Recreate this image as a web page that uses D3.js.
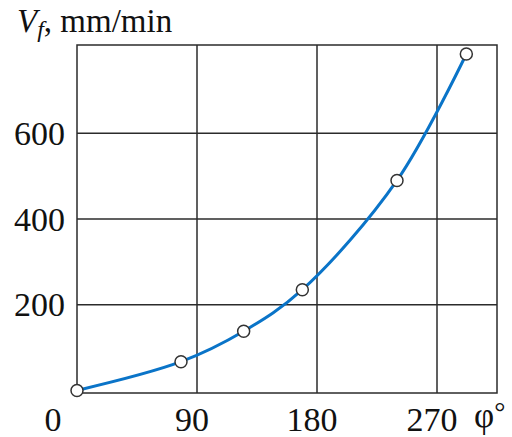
<!DOCTYPE html>
<html>
<head>
<meta charset="utf-8">
<script src="https://cdn.jsdelivr.net/npm/d3@7"></script>
<style>
  body { margin: 0; background: #fff; }
  text { font-family: "Liberation Serif", "DejaVu Serif", serif; fill: #111; }
</style>
</head>
<body>
<svg></svg>
<script>
// values
const phi = [0, 78, 125, 169, 240, 292]
const vf = [0, 67, 138, 235, 490, 785]
const xTicks = [0, 90, 180, 270]
const yTicks = [200, 400, 600]

const width = 512
const height = 437

const svg = d3.select('svg')
    .attr('width', width)
    .attr('height', height)

const x = d3.scaleLinear().domain([0, 315]).range([77, 497])
const y = d3.scaleLinear().domain([-6, 806]).range([393, 45])

const gridColor = '#2b2b2b'

// grid
svg.append('g')
    .selectAll('line')
    .data(xTicks.slice(1))
    .enter()
    .append('line')
    .attr('x1', d => x(d)).attr('x2', d => x(d))
    .attr('y1', y.range()[0]).attr('y2', y.range()[1])
    .attr('stroke', gridColor)
    .attr('stroke-width', 1.5)

svg.append('g')
    .selectAll('line')
    .data(yTicks)
    .enter()
    .append('line')
    .attr('x1', x.range()[0]).attr('x2', x.range()[1])
    .attr('y1', d => y(d)).attr('y2', d => y(d))
    .attr('stroke', gridColor)
    .attr('stroke-width', 1.5)

// frame
svg.append('rect')
    .attr('x', x.range()[0])
    .attr('y', y.range()[1])
    .attr('width', x.range()[1] - x.range()[0])
    .attr('height', y.range()[0] - y.range()[1])
    .attr('fill', 'none')
    .attr('stroke', gridColor)
    .attr('stroke-width', 1.5)

// tick labels
svg.append('g')
    .selectAll('text')
    .data(yTicks)
    .enter()
    .append('text')
    .attr('x', 65)
    .attr('y', d => y(d))
    .attr('dy', '0.34em')
    .attr('text-anchor', 'end')
    .attr('font-size', 34)
    .text(d => d)

svg.append('g')
    .selectAll('text')
    .data(xTicks)
    .enter()
    .append('text')
    .attr('x', d => x(d) + (d === 0 ? -24 : -5))
    .attr('y', 431)
    .attr('text-anchor', 'middle')
    .attr('font-size', 34)
    .text(d => d)

// axis titles
const title = svg.append('text')
    .attr('x', 17)
    .attr('y', 32)
    .attr('font-size', 33)
title.append('tspan').attr('font-style', 'italic').text('V')
title.append('tspan').attr('font-style', 'italic').attr('font-size', 24).attr('dy', 5).text('f')
title.append('tspan').attr('dy', -5).text(', mm/min')

const xt = svg.append('text')
    .attr('x', 474)
    .attr('y', 427)
    .attr('font-size', 35)
xt.append('tspan').text('φ')
xt.append('tspan').attr('font-size', 28).attr('dy', -6).text('°')

// curve
const pts = phi.map((p, i) => [p, vf[i]])

const line = d3.line()
    .x(d => x(d[0]))
    .y(d => y(d[1]))
    .curve(d3.curveCatmullRom.alpha(0.5))

svg.append('path')
    .datum(pts)
    .attr('d', line)
    .attr('fill', 'none')
    .attr('stroke', '#0a74c8')
    .attr('stroke-width', 3)

svg.append('g')
    .selectAll('circle')
    .data(pts)
    .enter()
    .append('circle')
    .attr('cx', d => x(d[0]))
    .attr('cy', d => y(d[1]))
    .attr('r', 6)
    .attr('fill', '#fff')
    .attr('stroke', '#333')
    .attr('stroke-width', 1.5)
</script>
</body>
</html>
